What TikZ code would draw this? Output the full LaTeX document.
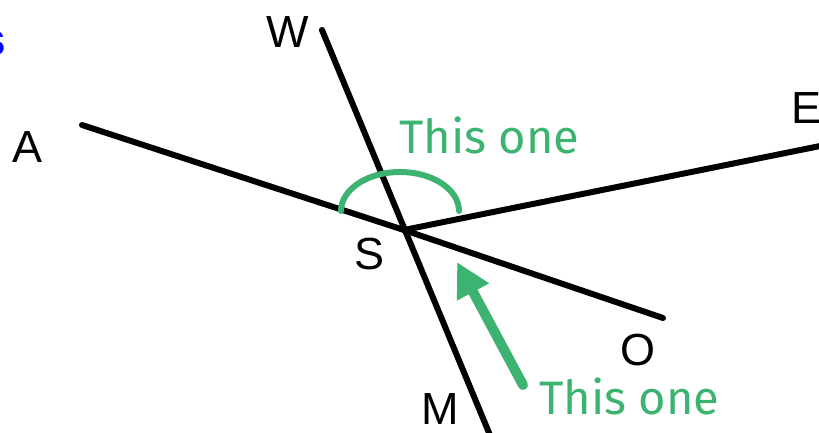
\documentclass[tikz,border=0pt]{standalone}
\usepackage{fontspec}
\setmainfont{Liberation Sans}
\newfontfamily\handfont{Fira Sans}
\usetikzlibrary{arrows.meta}
\definecolor{hgreen}{RGB}{60,179,113}
\tikzset{
  ray/.style={line width=6pt, line cap=round, black},
  ptlabel/.style={font=\fontsize{45}{45}\selectfont, inner sep=0pt},
  note/.style={font=\handfont\fontsize{47}{47}\selectfont, text=hgreen, inner sep=0pt},
}
\begin{document}
\begin{tikzpicture}[x=1pt,y=-1pt]
\useasboundingbox (0,0) rectangle (819,432);
\coordinate (S) at (404,230);
\coordinate (pA) at (82,125);
\coordinate (pE) at (830,144);
\coordinate (pW) at (322,30);
\coordinate (pM) at (492,440);
\coordinate (pO) at (663,318);
\draw[ray] (pA) -- (S);
\draw[ray] (S) -- (pE);
\draw[ray] (pW) -- (pM);
\draw[ray] (S) -- (pO);
% labels
\node[ptlabel] (lW) at (288,32) {W};
\node[ptlabel] (lA) at (28,147) {A};
\node[ptlabel] (lE) at (806,108) {E};
\node[ptlabel] (lS) at (370,254) {S};
\node[ptlabel] (lO) at (638,350) {O};
\node[ptlabel] (lM) at (440,409) {M};
\node[font=\bfseries\fontsize{46}{46}\selectfont, text=blue, anchor=base east, inner sep=0pt] (blue) at (6,55) {s};
% arc
\coordinate (arcL) at (341,211);
\draw[hgreen, line width=6pt, line cap=round] (arcL) arc[start angle=180, end angle=360, x radius=59, y radius=39] coordinate (arcR);
\node[note, anchor=base west] (t1) at (399,153) {This one};
\node[note, anchor=base west] (t2) at (539,414) {This one};
% arrow
\coordinate (arT) at (523,385);
\coordinate (arH) at (457,262);
\draw[hgreen, line width=10pt, line cap=round, -{Triangle[length=34pt,width=34pt]}] (arT) -- (arH);
\end{tikzpicture}
\end{document}
